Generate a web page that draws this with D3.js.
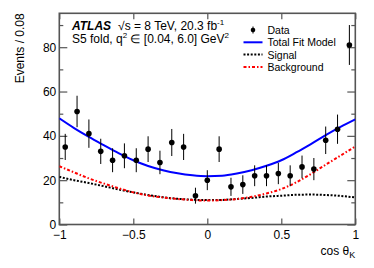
<!DOCTYPE html>
<html>
<head>
<meta charset="utf-8">
<script src="https://cdn.jsdelivr.net/npm/d3@7"></script>
<style>
body { margin: 0; background: #fff; }
text { font-family: "Liberation Sans", Arial, sans-serif; fill: #000; }
</style>
</head>
<body>
<div id="chart_area"></div>
<script>
// data
var binCenters = [-0.96, -0.88, -0.80, -0.72, -0.64, -0.56, -0.48, -0.40, -0.32, -0.24, -0.16, -0.08,
                  0.00, 0.08, 0.16, 0.24, 0.32, 0.40, 0.48, 0.56, 0.64, 0.72, 0.80, 0.88, 0.96];
var counts = [35, 51, 41, 33, 29, 31, 29, 34, 28, 37, 35, 13, 20, 34, 17, 18, 22, 22, 23, 22, 26, 25, 38, 43, 81];
var errors = [5.9, 7.1, 6.4, 5.7, 5.4, 5.6, 5.4, 5.8, 5.3, 6.1, 5.9, 3.6, 4.5, 5.8, 4.1, 4.2, 4.7, 4.7, 4.8, 4.7, 5.1, 5.0, 6.2, 6.6, 9.0];

var curveX = [-1, -0.9, -0.8, -0.7, -0.6, -0.5, -0.4, -0.3, -0.2, -0.1, 0, 0.1, 0.2, 0.3, 0.4, 0.5, 0.6, 0.7, 0.8, 0.9, 1];
var totalFit = [47.9, 43.5, 39.5, 35.8, 32.2, 29.0, 26.4, 24.5, 23.1, 22.2, 21.8, 22.0, 23.0, 24.5, 26.5, 29.0, 32.5, 36.3, 40.3, 44.0, 47.4];
var signal = [21.5, 20.0, 18.7, 17.3, 15.8, 14.5, 13.3, 12.3, 11.6, 11.2, 11.0, 11.1, 11.5, 12.0, 12.6, 13.0, 13.4, 13.5, 13.3, 12.9, 12.2];
var background = [26.3, 23.5, 20.8, 18.5, 16.4, 14.5, 13.1, 12.2, 11.5, 11.0, 10.8, 11.0, 11.5, 12.5, 14.0, 16.0, 19.0, 22.8, 27.0, 31.1, 35.2];

var xMajor = [-1, -0.5, 0, 0.5, 1];
var yMajor = [0, 20, 40, 60, 80];
var yMinor = [10, 30, 50, 70, 90];

var legendItems = ["Data", "Total Fit Model", "Signal", "Background"];

var frame_width = 374, frame_height = 268;
var plot = {left: 59.3, right: 355.3, top: 13.3, bottom: 224.5};

var svg = d3.select("#chart_area").append("svg")
    .attr("width", frame_width)
    .attr("height", frame_height);

var xScale = d3.scaleLinear().domain([-1, 1]).range([plot.left, plot.right]);
var yScale = d3.scaleLinear().domain([0, 95.3]).range([plot.bottom, plot.top]);

var axisColor = "#555";

// tick marks point inward, ROOT style
var xAxis = d3.axisBottom(xScale).tickValues(xMajor).tickSize(-6).tickPadding(5.5)
    .tickFormat(function(d){ return d === 0 ? "0" : d3.format("")(d).replace("-", "\u2212"); });
var gx = svg.append("g").attr("transform", "translate(0," + plot.bottom + ")").call(xAxis);
gx.select(".domain").remove();
gx.selectAll("line").attr("stroke", axisColor).attr("stroke-width", 1.2);
gx.selectAll("text").style("font-size", "12px").attr("fill", "#000");

var gxTop = svg.append("g").attr("transform", "translate(0," + plot.top + ")")
    .call(d3.axisTop(xScale).tickValues(xMajor).tickSize(-6).tickFormat(""));
gxTop.select(".domain").remove();
gxTop.selectAll("line").attr("stroke", axisColor).attr("stroke-width", 1.2);

var yAxis = d3.axisLeft(yScale).tickValues(yMajor).tickSize(-8).tickPadding(3);
var gy = svg.append("g").attr("transform", "translate(" + plot.left + ",0)").call(yAxis);
gy.select(".domain").remove();
gy.selectAll("line").attr("stroke", axisColor).attr("stroke-width", 1.2);
gy.selectAll("text").style("font-size", "12px").attr("fill", "#000");

var gyMinor = svg.append("g").attr("transform", "translate(" + plot.left + ",0)")
    .call(d3.axisLeft(yScale).tickValues(yMinor).tickSize(-4).tickFormat(""));
gyMinor.select(".domain").remove();
gyMinor.selectAll("line").attr("stroke", axisColor).attr("stroke-width", 1.2);

var gyR = svg.append("g").attr("transform", "translate(" + plot.right + ",0)")
    .call(d3.axisRight(yScale).tickValues(yMajor).tickSize(-8).tickFormat(""));
gyR.select(".domain").remove();
gyR.selectAll("line").attr("stroke", axisColor).attr("stroke-width", 1.2);

var gyRMinor = svg.append("g").attr("transform", "translate(" + plot.right + ",0)")
    .call(d3.axisRight(yScale).tickValues(yMinor).tickSize(-4).tickFormat(""));
gyRMinor.select(".domain").remove();
gyRMinor.selectAll("line").attr("stroke", axisColor).attr("stroke-width", 1.2);

// frame
svg.append("rect")
    .attr("x", plot.left).attr("y", plot.top)
    .attr("width", plot.right - plot.left).attr("height", plot.bottom - plot.top)
    .attr("fill", "none").attr("stroke", axisColor).attr("stroke-width", 1.6);

// axis titles
svg.append("text")
    .attr("x", plot.right).attr("y", 255)
    .attr("text-anchor", "end")
    .style("font-size", "12px")
    .html('cos \u03B8<tspan dy="3" font-size="9px">K</tspan>');

svg.append("text")
    .attr("transform", "translate(24," + plot.top + ") rotate(-90)")
    .attr("text-anchor", "end")
    .style("font-size", "12px")
    .text("Events / 0.08");

// curves
svg.append("clipPath").attr("id", "plotclip")
    .append("rect").attr("x", plot.left).attr("y", plot.top)
    .attr("width", plot.right - plot.left).attr("height", plot.bottom - plot.top);

var line = d3.line()
    .x(function(d){ return xScale(d[0]); })
    .y(function(d){ return yScale(d[1]); })
    .curve(d3.curveMonotoneX);

var curves = svg.append("g").attr("clip-path", "url(#plotclip)");

curves.append("path")
    .attr("d", line(d3.zip(curveX, signal)))
    .attr("fill", "none").attr("stroke", "#000").attr("stroke-width", 2)
    .attr("stroke-dasharray", "2,1.6");

curves.append("path")
    .attr("d", line(d3.zip(curveX, background)))
    .attr("fill", "none").attr("stroke", "#ff0000").attr("stroke-width", 2)
    .attr("stroke-dasharray", "3,2,1.5,2");

curves.append("path")
    .attr("d", line(d3.zip(curveX, totalFit)))
    .attr("fill", "none").attr("stroke", "#0000ff").attr("stroke-width", 2);

// data points
var points = svg.append("g").selectAll("g")
    .data(d3.zip(binCenters, counts, errors))
    .enter().append("g");

points.append("line")
    .attr("x1", function(d){ return xScale(d[0]); })
    .attr("x2", function(d){ return xScale(d[0]); })
    .attr("y1", function(d){ return yScale(d[1] - d[2]); })
    .attr("y2", function(d){ return yScale(d[1] + d[2]); })
    .attr("stroke", "#000").attr("stroke-width", 1);

points.append("circle")
    .attr("cx", function(d){ return xScale(d[0]); })
    .attr("cy", function(d){ return yScale(d[1]); })
    .attr("r", 2.8)
    .attr("fill", "#000");

// header
var header = svg.append("text").attr("x", 72).attr("y", 30).style("font-size", "12px");
header.append("tspan").style("font-weight", "bold").style("font-style", "italic").text("ATLAS");
header.append("tspan").attr("dx", 7).html('\u221As = 8 TeV, 20.3 fb<tspan dy="-5" font-size="8px">-1</tspan>');

svg.append("text").attr("x", 72).attr("y", 42.5).style("font-size", "12px")
    .html('S5 fold, q<tspan dy="-5" font-size="8px">2</tspan><tspan dy="5"> \u2208 [0.04, 6.0] GeV</tspan><tspan dy="-5" font-size="8px">2</tspan>');

// legend
var legY = [30, 42.3, 54.5, 67];
var legX0 = 243.5, legX1 = 262.5, legText = 267.5;

var leg = svg.append("g");
leg.append("line").attr("x1", (legX0 + legX1) / 2).attr("x2", (legX0 + legX1) / 2)
    .attr("y1", legY[0] - 3.5).attr("y2", legY[0] + 3.5).attr("stroke", "#000");
leg.append("circle").attr("cx", (legX0 + legX1) / 2).attr("cy", legY[0]).attr("r", 2.3).attr("fill", "#000");
leg.append("line").attr("x1", legX0).attr("x2", legX1).attr("y1", legY[1]).attr("y2", legY[1])
    .attr("stroke", "#0000ff").attr("stroke-width", 2);
leg.append("line").attr("x1", legX0).attr("x2", legX1).attr("y1", legY[2]).attr("y2", legY[2])
    .attr("stroke", "#000").attr("stroke-width", 2).attr("stroke-dasharray", "2,1.6");
leg.append("line").attr("x1", legX0).attr("x2", legX1).attr("y1", legY[3]).attr("y2", legY[3])
    .attr("stroke", "#ff0000").attr("stroke-width", 2).attr("stroke-dasharray", "3,2,1.5,2");

leg.selectAll("text.lab").data(legendItems).enter().append("text")
    .attr("class", "lab")
    .attr("x", legText)
    .attr("y", function(d, i){ return legY[i] + 4; })
    .style("font-size", "10.5px")
    .text(function(d){ return d; });
</script>
</body>
</html>
